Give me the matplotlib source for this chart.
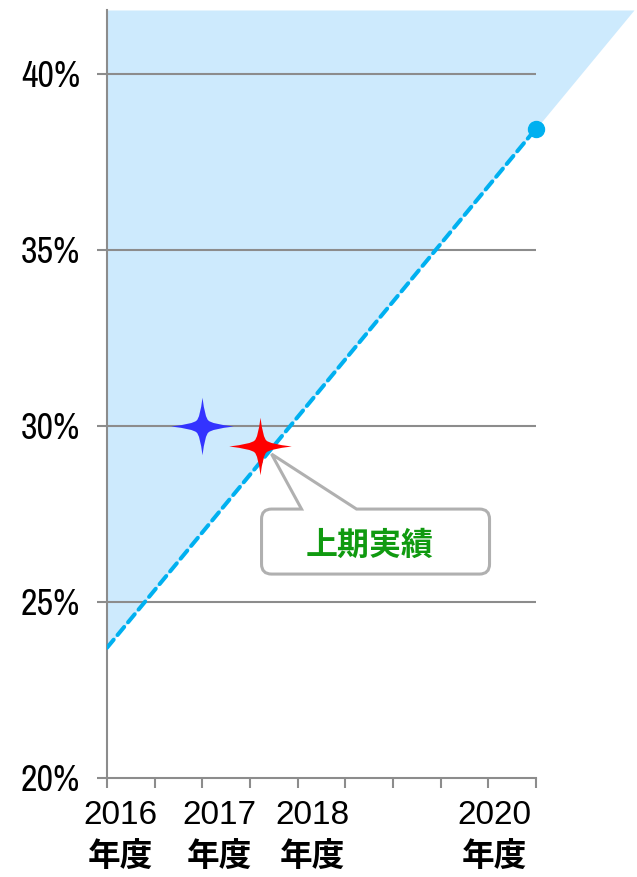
import numpy as np
import matplotlib.pyplot as plt
from matplotlib import font_manager
from matplotlib.path import Path
from matplotlib.patches import PathPatch
from matplotlib.transforms import IdentityTransform

# data
label_years = [2016, 2017, 2018, 2020]
label_suffix = '年度'
target_x = [2016.0, 2020.5]
target_y = [23.7, 38.45]
plan_x, plan_y = 2017.0, 30.0
actual_x, actual_y = 2017.6, 29.43
callout_text = '上期実績'
yticks = [20, 25, 30, 35, 40]

# look for a narrow latin face for the % labels, otherwise plain Liberation Sans
narrow = 'Liberation Sans'
for f in font_manager.fontManager.ttflist:
    if ('Narrow' in f.name or 'Condensed' in f.name) and f.style == 'normal':
        narrow = f.name
        break
narrow_is_real = narrow != 'Liberation Sans'
cjk = ['Noto Sans CJK JP', 'DejaVu Sans']

GRAY = '#8c8c8c'
LINE_BLUE = '#00b0f0'


def star_path(v=0.92, k=0.19, c=0.08):
    # four pointed star with slightly concave sides
    verts, codes = [(1, 0)], [Path.MOVETO]
    for sx, sy, from_x in [(1, 1, True), (-1, 1, False), (-1, -1, True), (1, -1, False)]:
        if from_x:
            seg = [(0.3 * sx, c * sy), (k * sx, k * sy), (c * sx, 0.3 * v * sy), (0, v * sy)]
        else:
            seg = [(c * sx, 0.3 * v * sy), (k * sx, k * sy), (0.3 * sx, c * sy), (sx, 0)]
        verts += seg
        codes += [Path.CURVE3] * 4
    return Path(verts, codes)


W, H = 637, 877
fig = plt.figure(figsize=(W / 100, H / 100), dpi=100)
ax = fig.add_axes([107 / W, 1 - 778 / H, 530 / W, 768 / H])

px_per_year = 429 / 4.5
ax.set_xlim(2016, 2016 + 530 / px_per_year)
ax.set_ylim(20, 20 + 768 / 176 * 5)

# shaded region above the target line, extended to the top of the axes
slope = (target_y[1] - target_y[0]) / (target_x[1] - target_x[0])
x_top = target_x[0] + (ax.get_ylim()[1] - target_y[0]) / slope
fx = np.array([target_x[0], x_top])
fy = target_y[0] + slope * (fx - target_x[0])
ax.fill_between(fx, fy, ax.get_ylim()[1], color='#cdeafd', lw=0, zorder=0)

ax.hlines(yticks[1:], target_x[0], target_x[1], color=GRAY, lw=1.5, zorder=1)

ax.plot(target_x, target_y, color=LINE_BLUE, lw=2.9, ls=(0, (2.6, 1.5)),
        dash_capstyle='round', zorder=3)
ax.plot(target_x[-1], target_y[-1], 'o', color=LINE_BLUE, ms=11.5, zorder=4)

star = star_path()
ax.plot(plan_x, plan_y, marker=star, color='#3333ff', mew=0, ms=45, ls='none', zorder=5)
ax.plot(actual_x, actual_y, marker=star, color='#ff0000', mew=0, ms=45, ls='none', zorder=5)

# axes styling
for s in ['top', 'right']:
    ax.spines[s].set_visible(False)
for s in ['left', 'bottom']:
    ax.spines[s].set_color(GRAY)
    ax.spines[s].set_linewidth(1.5)
ax.spines['bottom'].set_bounds(target_x[0], target_x[1])
ax.set_xticks(np.arange(2016, 2020.51, 0.5))
ax.set_xticklabels([])
ax.set_yticks(yticks)
ax.set_yticklabels([f'{v}%' for v in yticks], fontfamily=narrow,
                   fontsize=26 if narrow_is_real else 22.5)
ax.tick_params(axis='both', direction='out', length=7.2, width=1.5, color=GRAY)
ax.tick_params(axis='y', pad=12)

# x labels
shift_px = [13, 17, 15, 6]
for yr, dx in zip(label_years, shift_px):
    ax.annotate(str(yr), xy=(yr, 0), xycoords=('data', 'axes fraction'),
                xytext=(dx * 0.72, -38 * 0.72), textcoords='offset points',
                ha='center', va='center', fontfamily='Liberation Sans', fontsize=24)
    ax.annotate(label_suffix, xy=(yr, 0), xycoords=('data', 'axes fraction'),
                xytext=(dx * 0.72, -79 * 0.72), textcoords='offset points',
                ha='center', va='center', family=cjk, fontsize=23.5, fontweight='bold')

# callout pointing at the red star
px, py = ax.transData.transform((actual_x, actual_y))
L, R, T, B, r = px + 2, px + 230, py - 63, py - 128, 10
a, b = px + 42, px + 97
verts = [(a, T), (px + 12, py - 8), (b, T), (R - r, T), (R, T), (R, T - r),
         (R, B + r), (R, B), (R - r, B), (L + r, B), (L, B), (L, B + r),
         (L, T - r), (L, T), (L + r, T), (a, T)]
codes = [Path.MOVETO, Path.LINETO, Path.LINETO, Path.LINETO, Path.CURVE3, Path.CURVE3,
         Path.LINETO, Path.CURVE3, Path.CURVE3, Path.LINETO, Path.CURVE3, Path.CURVE3,
         Path.LINETO, Path.CURVE3, Path.CURVE3, Path.CLOSEPOLY]
fig.patches.append(PathPatch(Path(verts, codes), transform=IdentityTransform(),
                             facecolor='white', edgecolor='#b0b0b0', lw=2.2, zorder=6))
fig.text(px + 110, py - 100, callout_text, transform=IdentityTransform(),
         ha='center', va='center', family=cjk, fontsize=23, fontweight='bold',
         color='#109a10', zorder=7)

fig.savefig('out.png', dpi=100)
